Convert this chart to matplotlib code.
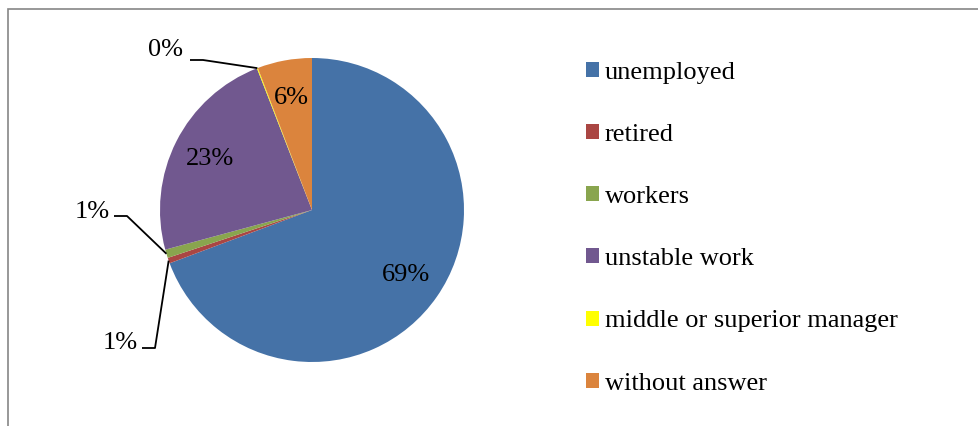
import matplotlib
matplotlib.use("Agg")
import matplotlib.pyplot as plt
import numpy as np
from matplotlib.patches import Rectangle

categories = ["unemployed", "retired", "workers", "unstable work",
              "middle or superior manager", "without answer"]
values = [69.3, 0.6, 0.9, 23.3, 0.1, 5.8]
colors = ["#4572A7", "#AA4643", "#89A54E", "#71588F", "#FFFF00", "#DB843D"]

plt.rcParams['font.family'] = ['Liberation Serif', 'DejaVu Serif']

W, H = 979, 426
fig = plt.figure(figsize=(W / 100, H / 100), dpi=100)
ax = fig.add_axes([0, 0, 1, 1])

cx, cy, r = 312, H - 210, 152
wedges, _ = ax.pie(values, colors=colors, startangle=90, counterclock=False,
                   center=(cx, cy), radius=r, frame=True,
                   wedgeprops=dict(linewidth=0))
ax.set_xlim(0, W)
ax.set_ylim(0, H)
ax.set_aspect('equal')
ax.axis('off')

fs = 19
labels = [f"{v:.0f}%" for v in values]

def mid_point(w, frac):
    ang = np.deg2rad((w.theta1 + w.theta2) / 2)
    return cx + frac * r * np.cos(ang), cy + frac * r * np.sin(ang)

# inside labels
for i in (0, 3, 5):
    x, y = mid_point(wedges[i], 0.75)
    ax.text(x, y, labels[i], fontsize=fs, ha='center', va='center', color='black')

# outside labels with leader lines
outside = {1: ((120, H - 343), (155, H - 348)),
           2: ((92, H - 212), (127, H - 216)),
           4: ((166, H - 50), (203, H - 60))}
for i, (tpos, elbow) in outside.items():
    ex, ey = mid_point(wedges[i], 1.0)
    ax.text(tpos[0], tpos[1], labels[i], fontsize=fs, ha='center', va='center')
    ax.plot([elbow[0] - 13, elbow[0], ex], [elbow[1], elbow[1], ey],
            color='black', lw=1.3, solid_capstyle='butt')

leg = fig.legend(wedges, categories, loc='upper left',
                 bbox_to_anchor=(586 / W, 1 - 62 / H), frameon=False,
                 fontsize=fs, handlelength=0.5, handleheight=0.5,
                 handletextpad=0.22, labelspacing=1.52, borderpad=0,
                 borderaxespad=0)

fig.patches.append(Rectangle((8 / W, -0.1), 1.2, (H - 9) / H + 0.1,
                             transform=fig.transFigure, fill=False,
                             edgecolor='#868686', linewidth=1.2))

fig.savefig("out.png", dpi=100)
